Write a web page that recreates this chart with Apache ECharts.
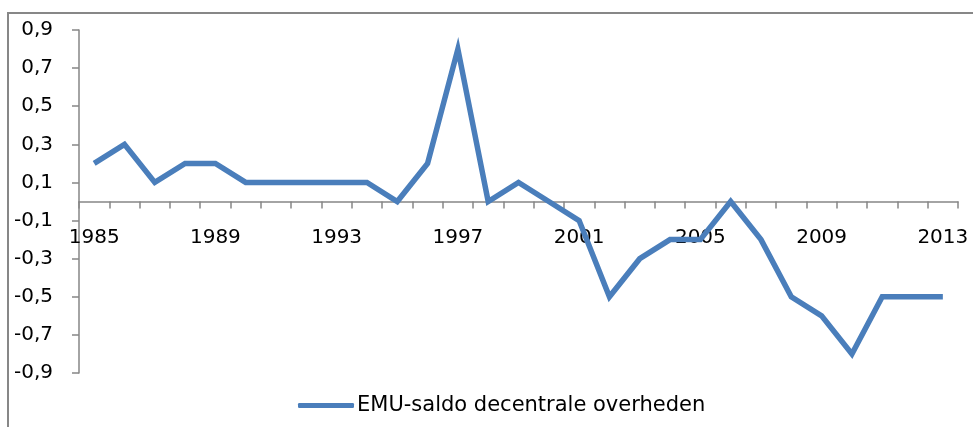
<!DOCTYPE html>
<html>
<head>
<meta charset="utf-8">
<script src="https://cdn.jsdelivr.net/npm/echarts@6/dist/echarts.min.js"></script>
<style>
  html, body { margin: 0; padding: 0; background: #fff; }
  #chart { width: 973px; height: 427px; }
</style>
</head>
<body>
<div id="chart"></div>
<script>
// jaren en EMU-saldo decentrale overheden (% bbp)
const years = ['1985', '1986', '1987', '1988', '1989', '1990', '1991', '1992', '1993', '1994',
  '1995', '1996', '1997', '1998', '1999', '2000', '2001', '2002', '2003', '2004',
  '2005', '2006', '2007', '2008', '2009', '2010', '2011', '2012', '2013']
const saldo = [0.2, 0.3, 0.1, 0.2, 0.2, 0.1, 0.1, 0.1, 0.1, 0.1,
  0.0, 0.2, 0.8, 0.0, 0.1, 0.0, -0.1, -0.5, -0.3, -0.2,
  -0.2, 0.0, -0.2, -0.5, -0.6, -0.8, -0.5, -0.5, -0.5]
const seriesName = 'EMU-saldo decentrale overheden'

const axisColor = '#868686'
const lineColor = '#4a7ebb'

const gridTop = 30
const gridBottom = 54
const plotHeight = 427 - gridTop - gridBottom
// x-as ligt op 0: schuif de as vanaf de onderkant omhoog
const yMin = -0.9
const yMax = 0.9
const zeroShift = plotHeight * (0 - yMin) / (yMax - yMin)

const chart = echarts.init(document.getElementById('chart'))
chart.setOption({
  animation: false,
  grid: {
    left: 79,
    right: 15,
    top: gridTop,
    bottom: gridBottom
  },
  graphic: [
    {
      type: 'polyline',
      shape: { points: [[8, 427], [8, 13], [973, 13]] },
      style: { stroke: '#878787', lineWidth: 2, fill: null }
    }
  ],
  legend: {
    left: 293,
    top: 390,
    itemWidth: 56,
    itemHeight: 5,
    itemGap: 5,
    icon: 'roundRect',
    textStyle: {
      fontFamily: 'DejaVu Sans',
      fontSize: 21,
      color: '#000',
      padding: [0, 0, 0, -2]
    },
    data: [seriesName]
  },
  xAxis: {
    type: 'category',
    data: years,
    boundaryGap: true,
    offset: -zeroShift,
    axisLine: {
      onZero: false,
      lineStyle: { color: axisColor, width: 1.5 }
    },
    axisTick: {
      show: true,
      interval: 0,
      length: 7,
      lineStyle: { color: axisColor, width: 1.5 }
    },
    axisLabel: {
      interval: 3,
      margin: 26,
      fontFamily: 'DejaVu Sans',
      fontSize: 20,
      color: '#000'
    },
    splitLine: { show: false }
  },
  yAxis: {
    type: 'value',
    min: yMin,
    max: yMax,
    interval: 0.2,
    axisLine: {
      show: true,
      lineStyle: { color: axisColor, width: 1.5 }
    },
    axisTick: {
      show: true,
      length: 7,
      lineStyle: { color: axisColor, width: 1.5 }
    },
    axisLabel: {
      margin: 26,
      fontFamily: 'DejaVu Sans',
      fontSize: 20,
      color: '#000',
      formatter: v => v.toFixed(1).replace('.', ',')
    },
    splitLine: { show: false }
  },
  series: [
    {
      name: seriesName,
      type: 'line',
      data: saldo,
      showSymbol: false,
      symbol: 'none',
      itemStyle: { color: lineColor },
      lineStyle: { color: lineColor, width: 5.5, join: 'miter' }
    }
  ]
})
</script>
</body>
</html>
